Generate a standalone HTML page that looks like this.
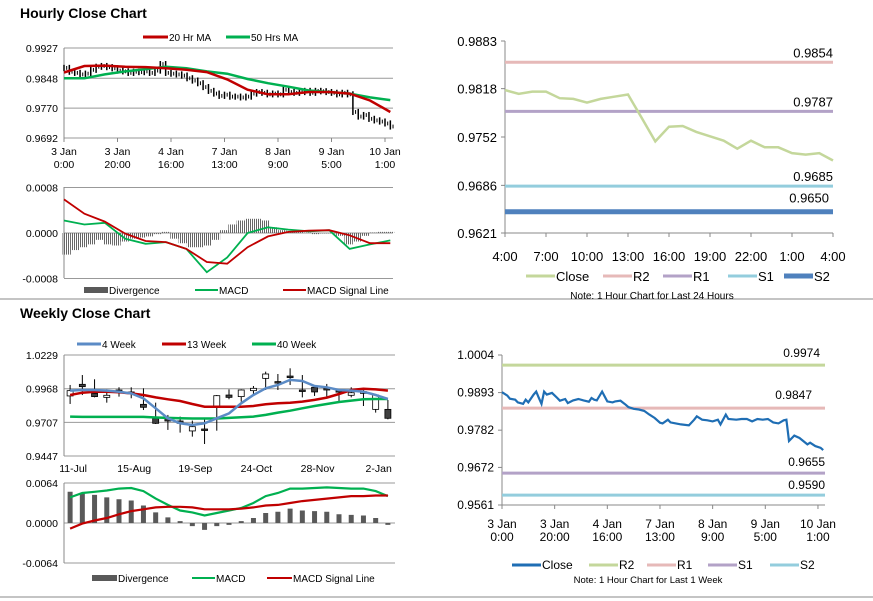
<!DOCTYPE html>
<html><head><meta charset="utf-8"><style>
html,body{margin:0;padding:0;background:#fff;}
svg{display:block;font-family:"Liberation Sans",Arial,sans-serif;}
</style></head><body>
<svg id="s" width="873" height="601" viewBox="0 0 873 601">
<defs><pattern id="hatch" width="2" height="4" patternUnits="userSpaceOnUse"><rect width="1" height="4" fill="#666"/></pattern></defs>
<rect width="873" height="601" fill="#fff"/>
<text x="20" y="18" font-size="14" font-weight="bold" fill="#000">Hourly Close Chart</text>
<text x="20" y="318" font-size="14" font-weight="bold" fill="#000">Weekly Close Chart</text>
<line x1="0" y1="299" x2="873" y2="299" stroke="#888" stroke-width="1"/>
<line x1="0" y1="597" x2="873" y2="597" stroke="#888" stroke-width="1"/>
<g id="g"></g>
</svg>
<script>
// ---- Hourly close (left top) ----
const hourlyClose=[0.9875,0.9865,0.9862,0.9858,0.9860,0.9870,0.9878,0.9880,0.9877,0.9874,
0.9868,0.9866,0.9862,0.9865,0.9864,0.9866,0.9862,0.9868,0.9885,0.9862,
0.9860,0.9858,0.9855,0.9848,0.9842,0.9835,0.9825,0.9815,0.9808,0.9802,
0.9805,0.9800,0.9800,0.9798,0.9800,0.9808,0.9812,0.9810,0.9806,0.9808,
0.9806,0.9818,0.9812,0.9810,0.9812,0.9815,0.9810,0.9815,0.9814,0.9812,
0.9810,0.9806,0.9810,0.9806,0.9760,0.9748,0.9752,0.9742,0.9738,0.9735,0.9730,0.9722];
const hourlyMA20=[0.9863,0.9880,0.9881,0.9878,0.9877,0.9874,0.9870,0.9864,0.9845,0.9818,0.9806,0.9806,0.9812,0.9812,0.9808,0.9790,0.9760];
const hourlyMA50=[0.9848,0.9848,0.9858,0.9866,0.9872,0.9878,0.9874,0.9866,0.9860,0.9846,0.9835,0.9826,0.9816,0.9812,0.9808,0.9798,0.9791];
const hourlyTicks=[0.9927,0.9848,0.9770,0.9692];
const hourlyXLabels=[["3 Jan","0:00"],["3 Jan","20:00"],["4 Jan","16:00"],["7 Jan","13:00"],["8 Jan","9:00"],["9 Jan","5:00"],["10 Jan","1:00"]];
// ---- Hourly MACD ----
const hMacd=[0.00022,0.00015,0.00018,-0.0001,-0.00019,-0.00016,-0.00028,-0.00069,-0.00043,0,0.0001,0.00006,0.00003,0.00005,-0.00028,-0.0002,-0.00013];
const hSignal=[0.00059,0.00034,0.0002,-0.00001,-0.00014,-0.00016,-0.00028,-0.00051,-0.00054,-0.00025,-0.00006,0.00002,0.00004,0.00005,-0.00004,-0.00018,-0.00018];
const hDiv=[-0.00038,-0.0003,-0.00025,-0.0002,-0.00012,-0.0002,-0.00022,-0.00015,-0.0001,-0.00008,-0.00006,-0.00002,0.00002,-0.0001,-0.00018,-0.00025,-0.00025,-0.00022,-0.00012,0.00005,0.00015,0.00022,0.00025,0.00025,0.00022,0.0001,0.00005,0.00003,0.00002,0.00001,-0.00002,0,0,-0.00005,-0.0002,-0.00015,-0.00005,0.00001,0.00002,0.00002];
const hMacdTicks=[0.0008,0,-0.0008];
const hMacdTickLabels=["0.0008","0.0000","-0.0008"];
// ---- Weekly candles ----
const wOpen=[0.9912,1.0002,0.9932,0.9901,0.9958,0.9943,0.9847,0.9739,0.9739,0.9718,0.9641,0.9656,0.9824,0.9919,0.9907,0.9953,1.0048,1.0023,1.0066,0.9958,0.9979,0.9971,0.9953,0.9917,0.9932,0.9808,0.9808];
const wClose=[0.9953,0.9984,0.9907,0.9917,0.9945,0.9932,0.9824,0.9700,0.9718,0.9700,0.9674,0.9654,0.9914,0.9901,0.9958,0.9971,1.0082,1.0015,1.0059,0.9950,0.9943,0.9958,0.9945,0.9937,0.9945,0.9919,0.9739];
const wHigh=[0.9997,1.0074,1.0041,0.9963,0.9979,0.9979,0.9971,0.9860,0.9765,0.9752,0.9721,0.9739,0.9919,0.9963,0.9963,0.9989,1.0100,1.0082,1.0126,1.0074,0.9989,1.0005,0.9963,0.9979,0.9963,0.9919,0.9881];
const wLow=[0.9850,0.9919,0.9901,0.9860,0.9907,0.9894,0.9803,0.9695,0.9649,0.9628,0.9597,0.9540,0.9643,0.9886,0.9868,0.9919,0.9958,0.9958,0.9997,0.9901,0.9912,0.9907,0.9868,0.9901,0.9834,0.9783,0.9731];
const w4=[0.9953,0.9958,0.9958,0.9953,0.9945,0.9932,0.9894,0.9816,0.9739,0.9700,0.9687,0.9700,0.9739,0.9777,0.9855,0.9919,0.9971,0.9997,1.0036,1.0028,0.9989,0.9979,0.9958,0.9953,0.9945,0.9919,0.9888];
const w13=[0.9919,0.9937,0.9945,0.9945,0.9940,0.9932,0.9919,0.9901,0.9886,0.9873,0.9850,0.9829,0.9829,0.9829,0.9829,0.9834,0.9847,0.9855,0.9860,0.9868,0.9881,0.9899,0.9927,0.9958,0.9968,0.9963,0.9953];
const w40=[0.9752,0.9750,0.9750,0.9750,0.9750,0.9750,0.9750,0.9745,0.9742,0.9739,0.9737,0.9737,0.9737,0.9742,0.9747,0.9752,0.9765,0.9783,0.9798,0.9816,0.9834,0.9850,0.9865,0.9876,0.9886,0.9888,0.9888];
const wTicks=[1.0229,0.9968,0.9707,0.9447];
const wXLabels=["11-Jul","15-Aug","19-Sep","24-Oct","28-Nov","2-Jan"];
// ---- Weekly MACD ----
const wDiv=[0.0050,0.0048,0.0045,0.0041,0.0038,0.0036,0.0028,0.0017,0.0009,0.0003,-0.0005,-0.0011,-0.0005,-0.0003,0.0003,0.0008,0.0016,0.0018,0.0023,0.0020,0.0019,0.0018,0.0014,0.0013,0.0012,0.0008,-0.0003];
const wMacd=[0.0041,0.0048,0.0050,0.0052,0.0055,0.0056,0.0051,0.0039,0.0029,0.0020,0.0017,0.0012,0.0016,0.0020,0.0024,0.0032,0.0043,0.0048,0.0055,0.0055,0.0056,0.0057,0.0056,0.0055,0.0055,0.0051,0.0043];
const wSignal=[-0.0009,-0.0001,0.0004,0.0008,0.0014,0.0019,0.0022,0.0025,0.0026,0.0026,0.0025,0.0022,0.0022,0.0022,0.0023,0.0025,0.0028,0.0029,0.0032,0.0035,0.0037,0.0039,0.0041,0.0043,0.0043,0.0044,0.0044];
const wMacdTicks=[0.0064,0,-0.0064];
const wMacdTickLabels=["0.0064","0.0000","-0.0064"];
// ---- Right top: 24h ----
const dayClose=[0.9816,0.9811,0.9814,0.9814,0.9805,0.9804,0.9799,0.9804,0.9807,0.9810,0.9778,0.9746,0.9766,0.9767,0.9759,0.9753,0.9747,0.9736,0.9747,0.9738,0.9738,0.9730,0.9728,0.9730,0.9720];
const dayLevels=[0.9854,0.9787,0.9685,0.9650];
const dayLevelNames=["R2","R1","S1","S2"];
const dayTicks=[0.9883,0.9818,0.9752,0.9686,0.9621];
const dayXLabels=["4:00","7:00","10:00","13:00","16:00","19:00","22:00","1:00","4:00"];
// ---- Right bottom: week ----
const weekIdx=[0,2,3,5,6,8,9,10,12,13,14,15,16,17,19,21,22,24,25,27,29,31,33,34,35,36,38,40,42,43,45,47,48,50,52,54,56,58,60,61,63,64,66,68,71,73,74,76,78,80,82,83,85,86,89,91,93,95,97,99,101,103,105,107,108,109,111,113,116,117,119,121,122];
const weekClose=[0.9894,0.9884,0.9875,0.9872,0.9864,0.9860,0.9872,0.9864,0.9887,0.9896,0.9877,0.9860,0.9896,0.9887,0.9892,0.9877,0.9869,0.9874,0.9862,0.9870,0.9874,0.9870,0.9866,0.9877,0.9872,0.9870,0.9896,0.9867,0.9864,0.9867,0.9869,0.9857,0.9850,0.9845,0.9843,0.9839,0.9828,0.9818,0.9804,0.9802,0.9813,0.9805,0.9802,0.9799,0.9796,0.9813,0.9823,0.9813,0.9811,0.9808,0.9813,0.9799,0.9828,0.9815,0.9813,0.9815,0.9815,0.9808,0.9815,0.9813,0.9815,0.9805,0.9802,0.9811,0.9813,0.9750,0.9766,0.9759,0.9740,0.9745,0.9735,0.9730,0.9723];
const weekLevels=[0.9974,0.9847,0.9655,0.9590];
const weekLevelNames=["R2","R1","S1","S2"];
const weekTicks=[1.0004,0.9893,0.9782,0.9672,0.9561];
const weekXLabels=[["3 Jan","0:00"],["3 Jan","20:00"],["4 Jan","16:00"],["7 Jan","13:00"],["8 Jan","9:00"],["9 Jan","5:00"],["10 Jan","1:00"]];

const NS="http://www.w3.org/2000/svg";
const G=document.getElementById('g');
function mk(tag,attrs,parent){const e=document.createElementNS(NS,tag);for(const k in attrs)e.setAttribute(k,attrs[k]);(parent||G).appendChild(e);return e;}
function txt(x,y,s,size,anchor,parent){const e=mk('text',{x:x,y:y,'font-size':size,'text-anchor':anchor||'start',fill:'#000'},parent);e.textContent=s;return e;}
function poly(pts){return pts.map(p=>p[0].toFixed(1)+','+p[1].toFixed(1)).join(' ');}

const xH=i=>64+i*2.675;
const yH=v=>48+(0.9927-v)/0.0235*90;
const yHM=v=>233-v/0.0008*45.5;
const xW=i=>64+(i+0.5)*330/27;
const yW=v=>355+(1.0229-v)/0.0782*101;
const yWM=v=>523-v/0.0064*40;
const xT=i=>505+i*328/24;
const yT=v=>41+(0.9883-v)/0.0262*192;
const xB=i=>502+i*2.633;
const yB=v=>355+(1.0004-v)/0.0443*150;

// ===== Hourly top-left =====
hourlyTicks.forEach(v=>{
 const l=mk('line',{x1:64,x2:393,y1:yH(v),y2:yH(v),stroke:'#999','stroke-width':1});
 
 
 const t=txt(58,yH(v)+4,v.toFixed(4),10.5,'end');
 
 
});
{const a=mk('line',{x1:64,x2:64,y1:48,y2:138,stroke:'#888'});

}
hourlyXLabels.forEach((lb,k)=>{
 const x=xH(k*20);
 const tk=mk('line',{x1:x,x2:x,y1:138,y2:142,stroke:'#888'});
 
 
 const t1=txt(x,155,lb[0],10.5,'middle');
 
 
 const t2=txt(x,168,lb[1],10.5,'middle');
 
 
});
hourlyClose.forEach((v,i)=>{
 const prev=i>0?hourlyClose[i-1]:v;
 const hi=Math.max(v,prev)+0.0008, lo=Math.min(v,prev)-0.0008;
 const b=mk('line',{x1:xH(i*2),x2:xH(i*2),y1:yH(hi),y2:yH(lo),stroke:'#000','stroke-width':1.5});
 
 
 const c=mk('line',{x1:xH(i*2+1),x2:xH(i*2+1),y1:yH(v+0.0005),y2:yH(v-0.0005),stroke:'#000','stroke-width':1});
 
 
});
{const p=mk('polyline',{points:poly(hourlyMA50.map((v,i)=>[xH(i*122/16),yH(v)])),fill:'none',stroke:'#00b050','stroke-width':2.5});


const q=mk('polyline',{points:poly(hourlyMA20.map((v,i)=>[xH(i*122/16),yH(v)])),fill:'none',stroke:'#c00000','stroke-width':2.5});

}
{const l1=mk('line',{x1:143,x2:168,y1:37,y2:37,stroke:'#c00000','stroke-width':3});


const t1=txt(169,41,'20 Hr MA',10);


const l2=mk('line',{x1:226,x2:250,y1:37,y2:37,stroke:'#00b050','stroke-width':3});


const t2=txt(251,41,'50 Hrs MA',10);

}

// ===== Hourly MACD =====
hMacdTicks.forEach((v,k)=>{
 const l=mk('line',{x1:64,x2:393,y1:yHM(v),y2:yHM(v),stroke:'#999'});
 
 
 const t=txt(58,yHM(v)+4,hMacdTickLabels[k],10.5,'end');
 
 
});
{const a=mk('line',{x1:64,x2:64,y1:187,y2:278,stroke:'#888'});

}
hDiv.forEach((v,i)=>{
 const x=xH(1+i*3.1);
 const y0=yHM(0),y1=yHM(v);
 const b=mk('rect',{x:x-4.2,y:Math.min(y0,y1),width:8.4,height:Math.max(0.5,Math.abs(y1-y0)),fill:'url(#hatch)'});
 
 
});
{const p=mk('polyline',{points:poly(hMacd.map((v,i)=>[xH(i*122/16),yHM(v)])),fill:'none',stroke:'#00b050','stroke-width':1.8});


const q=mk('polyline',{points:poly(hSignal.map((v,i)=>[xH(i*122/16),yHM(v)])),fill:'none',stroke:'#c00000','stroke-width':1.8});

}
{const r=mk('rect',{x:84,y:287,width:24,height:6,fill:'#595959'});


const t=txt(109,294,'Divergence',10);


const l=mk('line',{x1:195,x2:218,y1:290,y2:290,stroke:'#00b050','stroke-width':2});


const t2=txt(219,294,'MACD',10);


const l3=mk('line',{x1:283,x2:306,y1:290,y2:290,stroke:'#c00000','stroke-width':2});


const t3=txt(307,294,'MACD Signal Line',10);

}

// ===== Weekly candles =====
wTicks.forEach(v=>{
 const l=mk('line',{x1:64,x2:395,y1:yW(v),y2:yW(v),stroke:'#999'});
 
 
 const t=txt(58,yW(v)+4,v.toFixed(4),10.5,'end');
 
 
});
{const a=mk('line',{x1:64,x2:64,y1:355,y2:456,stroke:'#888'});

}
wXLabels.forEach((s,k)=>{
 const t=txt(xW(k*5)+3,472,s,10.5,'middle');
 
 
});
wOpen.forEach((o,i)=>{
 const c=wClose[i],x=xW(i);
 const w=mk('line',{x1:x,x2:x,y1:yW(wHigh[i]),y2:yW(wLow[i]),stroke:'#000','stroke-width':1});
 
 
 const top=yW(Math.max(o,c)),bot=yW(Math.min(o,c));
 const b=mk('rect',{x:x-3,y:top,width:6,height:Math.max(1.5,bot-top),fill:c>=o?'#fff':'#404040',stroke:'#000','stroke-width':0.8});
 
 
});
[[w40,'#00b050','weekly-40wk-line'],[w13,'#c00000','weekly-13wk-line'],[w4,'#5b8bc6','weekly-4wk-line']].forEach(([arr,col,nm])=>{
 const p=mk('polyline',{points:poly(arr.map((v,i)=>[xW(i),yW(v)])),fill:'none',stroke:col,'stroke-width':2.5});
 
 
});
[[77,'#5b8bc6','4 Week','legend-4-week'],[162,'#c00000','13 Week','legend-13-week'],[252,'#00b050','40 Week','legend-40-week']].forEach(([x,col,s,nm])=>{
 const l=mk('line',{x1:x,x2:x+24,y1:344,y2:344,stroke:col,'stroke-width':3});
 
 
 const t=txt(x+25,348,s,10);
 
 
});

// ===== Weekly MACD =====
wMacdTicks.forEach((v,k)=>{
 const l=mk('line',{x1:64,x2:395,y1:yWM(v),y2:yWM(v),stroke:'#999'});
 
 
 const t=txt(58,yWM(v)+4,wMacdTickLabels[k],10.5,'end');
 
 
});
{const a=mk('line',{x1:64,x2:64,y1:483,y2:563,stroke:'#888'});

}
wDiv.forEach((v,i)=>{
 const y0=yWM(0),y1=yWM(v);
 const b=mk('rect',{x:xW(i)-2.5,y:Math.min(y0,y1),width:5,height:Math.max(0.5,Math.abs(y1-y0)),fill:'#595959'});
 
 
});
{const p=mk('polyline',{points:poly(wMacd.map((v,i)=>[xW(i),yWM(v)])),fill:'none',stroke:'#00b050','stroke-width':2.2});


const q=mk('polyline',{points:poly(wSignal.map((v,i)=>[xW(i),yWM(v)])),fill:'none',stroke:'#c00000','stroke-width':2.2});

}
{const r=mk('rect',{x:92,y:575,width:25,height:6,fill:'#595959'});


const t=txt(118,582,'Divergence',10);


const l=mk('line',{x1:192,x2:215,y1:578,y2:578,stroke:'#00b050','stroke-width':2});


const t2=txt(216,582,'MACD',10);


const l3=mk('line',{x1:267,x2:292,y1:578,y2:578,stroke:'#c00000','stroke-width':2});


const t3=txt(293,582,'MACD Signal Line',10);

}

// ===== Right top: 24h pivot chart =====
const dayColors=['#e6b9b8','#b3a2c7','#93cddd','#4f81bd'];
const dayWidths=[3,3,3,5];
{const a=mk('line',{x1:505,x2:505,y1:41,y2:233,stroke:'#888'});


const b=mk('line',{x1:505,x2:833,y1:233,y2:233,stroke:'#888'});

}
dayTicks.forEach(v=>{
 const tk=mk('line',{x1:501,x2:505,y1:yT(v),y2:yT(v),stroke:'#888'});
 
 
 const t=txt(497,yT(v)+5,v.toFixed(4),13,'end');
 
 
});
dayXLabels.forEach((s,k)=>{
 const x=xT(k*3);
 const tk=mk('line',{x1:x,x2:x,y1:233,y2:237,stroke:'#888'});
 
 
 const t=txt(x,261,s,13,'middle');
 
 
});
dayLevels.forEach((v,k)=>{
 const l=mk('line',{x1:505,x2:833,y1:yT(v),y2:yT(v),stroke:dayColors[k],'stroke-width':dayWidths[k]});
 
 
});
{const p=mk('polyline',{points:poly(dayClose.map((v,i)=>[xT(i),yT(v)])),fill:'none',stroke:'#c4d79b','stroke-width':2.5});

}
dayLevels.forEach((v,k)=>{
 const dy=k===3?-9:-5;
 const x=k===3?829:833;
 const t=txt(x,yT(v)+dy,v.toFixed(4),13,'end');
 
 
});
[['Close','#c4d79b',526,3],['R2','#e6b9b8',603,3],['R1','#b3a2c7',663,3],['S1','#93cddd',728,3],['S2','#4f81bd',784,5]].forEach(([s,col,x,w])=>{
 const l=mk('line',{x1:x,x2:x+29,y1:276,y2:276,stroke:col,'stroke-width':w});
 
 
 const t=txt(x+30,281,s,13);
 
 
});
{const t=txt(652,299,'Note: 1 Hour Chart for Last 24 Hours',10,'middle');

}

// ===== Right bottom: week pivot chart =====
const weekColors=['#c4d79b','#e6b9b8','#b3a2c7','#93cddd'];
{const a=mk('line',{x1:502,x2:502,y1:355,y2:505,stroke:'#888'});


const b=mk('line',{x1:502,x2:825,y1:505,y2:505,stroke:'#888'});

}
weekTicks.forEach(v=>{
 const tk=mk('line',{x1:498,x2:502,y1:yB(v),y2:yB(v),stroke:'#888'});
 
 
 const t=txt(494,yB(v)+4,v.toFixed(4),12,'end');
 
 
});
weekXLabels.forEach((lb,k)=>{
 const x=xB(k*20);
 const tk=mk('line',{x1:x,x2:x,y1:505,y2:509,stroke:'#888'});
 
 
 const t1=txt(x,528,lb[0],12,'middle');
 
 
 const t2=txt(x,541,lb[1],12,'middle');
 
 
});
weekLevels.forEach((v,k)=>{
 const l=mk('line',{x1:502,x2:825,y1:yB(v),y2:yB(v),stroke:weekColors[k],'stroke-width':3});
 
 
});
{const n=Math.min(weekIdx.length,weekClose.length);
const p=mk('polyline',{points:poly(weekClose.slice(0,n).map((v,i)=>[xB(weekIdx[i]),yB(v)])),fill:'none',stroke:'#1f6eb4','stroke-width':2.2});

}
[[820,-8],[812,-9],[825,-7],[825,-6]].forEach(([x,dy],k)=>{
 const t=txt(x,yB(weekLevels[k])+dy,weekLevels[k].toFixed(4),12,'end');
 
 
});
[['Close','#1f6eb4',512],['R2','#c4d79b',589],['R1','#e6b9b8',647],['S1','#b3a2c7',708],['S2','#93cddd',770]].forEach(([s,col,x])=>{
 const l=mk('line',{x1:x,x2:x+29,y1:565,y2:565,stroke:col,'stroke-width':3});
 
 
 const t=txt(x+30,569,s,12);
 
 
});
{const t=txt(648,583,'Note: 1 Hour Chart for Last 1 Week',9.5,'middle');

}
</script>
</body></html>
